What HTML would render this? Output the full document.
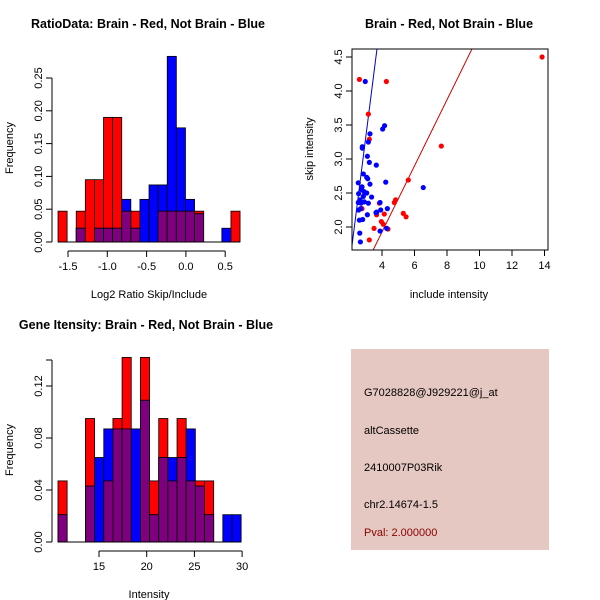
<!DOCTYPE html>
<html><head><meta charset="utf-8"><style>
html,body{margin:0;padding:0;background:#fff}
svg{display:block;font-family:"Liberation Sans",sans-serif}
</style></head><body>
<svg id="s" width="600" height="600" viewBox="0 0 600 600">
<rect width="600" height="600" fill="#fff"/>
<g font-weight="bold" font-size="12.5" text-anchor="middle">
<text x="148" y="28">RatioData: Brain - Red, Not Brain - Blue</text>
<text x="449" y="28">Brain - Red, Not Brain - Blue</text>
<text x="146" y="329">Gene Itensity: Brain - Red, Not Brain - Blue</text>
</g>
<g font-size="11" text-anchor="middle">
<text x="149" y="298">Log2 Ratio Skip/Include</text>
<text transform="translate(13,148) rotate(-90)">Frequency</text>
<text x="449" y="298">include intensity</text>
<text transform="translate(313,149) rotate(-90)">skip intensity</text>
<text x="149" y="598">Intensity</text>
<text transform="translate(13,450) rotate(-90)">Frequency</text>
</g>
<g id="g1"></g>
<g id="g2"></g>
<g id="g3"></g>
<g>
<rect x="351" y="349" width="198" height="201" fill="#e5c8c1"/>
<g font-size="11" fill="#000">
<text x="364" y="396">G7028828@J929221@j_at</text>
<text x="364" y="434">altCassette</text>
<text x="364" y="471">2410007P03Rik</text>
<text x="364" y="508">chr2.14674-1.5</text>
<text x="364" y="536" fill="#8b0000">Pval: 2.000000</text>
</g></g>
</svg>
<script>
// Ratio histogram data
const ratioBinStart = -1.627;
const ratioBinWidth = 0.1158;
const ratioRed =  [0.047,0,0.047,0.095,0.095,0.19,0.19,0.047,0.047,0,0,0.047,0.047,0.047,0.047,0.047,0,0,0,0.047];
const ratioBlue = [0,0,0.021,0,0.021,0.021,0.021,0.065,0.021,0.065,0.087,0.087,0.283,0.174,0.065,0.043,0,0,0.021,0];
const ratioXTicks = [-1.5,-1.0,-0.5,0.0,0.5];
const ratioXLabels = ["-1.5","-1.0","-0.5","0.0","0.5"];
const ratioYTicks = [0,0.05,0.10,0.15,0.20,0.25];
const ratioYLabels = ["0.00","0.05","0.10","0.15","0.20","0.25"];
// Intensity histogram data
const intBinStart = 10.7;
const intBinWidth = 0.96;
const intRed =  [0.047,0,0,0.095,0,0.047,0.095,0.142,0,0.142,0.047,0.095,0.047,0.095,0.047,0.047,0.047,0,0,0];
const intBlue = [0.021,0,0,0.043,0.065,0.087,0.087,0.087,0.087,0.109,0.021,0.065,0.065,0.065,0.087,0.043,0.021,0,0.021,0.021];
const intXTicks = [15,20,25,30];
const intXLabels = ["15","20","25","30"];
const intYTicks = [0,0.04,0.08,0.12,0.14];
const intYLabels = ["0.00","0.04","0.08","0.12",""];
// Scatter data
const blueX = [2.97,2.54,2.79,2.79,3.16,3.26,4.04,4.16,3.10,3.22,3.65,2.85,3.06,3.12,3.26,4.23,6.54,2.56,2.75,2.89,2.65,2.85,3.06,3.36,2.54,2.71,2.91,3.16,2.56,2.69,3.67,3.88,3.92,4.33,3.10,3.63,2.61,2.81,2.63,2.67,3.88,4.29,2.77];
const blueY = [4.14,2.65,3.18,3.16,3.25,3.37,3.44,3.49,3.04,2.95,2.91,2.78,2.73,2.71,2.63,2.66,2.58,2.49,2.55,2.52,2.40,2.45,2.50,2.44,2.36,2.35,2.37,2.35,2.25,2.27,2.22,2.36,2.25,2.27,2.18,2.21,2.10,2.11,1.91,1.78,1.94,1.98,2.59];
const redX = [2.61,4.27,3.16,3.22,13.85,7.65,5.62,2.77,4.76,4.84,5.31,5.48,4.14,3.96,4.08,3.67,3.51,3.22,4.37,3.84];
const redY = [4.17,4.14,3.66,3.29,4.50,3.19,2.69,2.27,2.36,2.40,2.20,2.15,2.19,2.08,2.04,2.18,1.98,1.81,1.97,2.35];
const blueFit = [-2.32, 1.88];
const redFit = [-0.017, 0.486];
const scXTicks = [4,6,8,10,12,14];
const scXLabels = ["4","6","8","10","12","14"];
const scYTicks = [2.0,2.5,3.0,3.5,4.0,4.5];
const scYLabels = ["2.0","2.5","3.0","3.5","4.0","4.5"];

const NS="http://www.w3.org/2000/svg";
function mk(parent,tag,attrs,txt){const e=document.createElementNS(NS,tag);for(const k in attrs)e.setAttribute(k,attrs[k]);if(txt!==undefined)e.textContent=txt;parent.appendChild(e);return e;}

function hist(g,start,w,red,blue,xs,ys,xt,xl,yt,yl,axY,xBase){
  for(let i=0;i<red.length;i++){
    const x0=xs(start+i*w),x1=xs(start+(i+1)*w);
    if(red[i]>0){const r=mk(g,'rect',{x:x0,y:ys(red[i]),width:x1-x0,height:ys(0)-ys(red[i]),fill:'#ff0000',stroke:'#000','stroke-width':0.8});
      
      }
    if(blue[i]>0){const b=mk(g,'rect',{x:x0,y:ys(blue[i]),width:x1-x0,height:ys(0)-ys(blue[i]),fill:'#0000ff',stroke:'#000','stroke-width':0.8});
      
      }
    const m=Math.min(red[i],blue[i]);
    if(m>0){const p=mk(g,'rect',{x:x0,y:ys(m),width:x1-x0,height:ys(0)-ys(m),fill:'#7f007f',stroke:'#000','stroke-width':0.8});
      
      }
  }
  mk(g,'line',{x1:axY,x2:axY,y1:ys(yt[0]),y2:ys(yt[yt.length-1]),stroke:'#000'});
  yt.forEach((v,i)=>{mk(g,'line',{x1:axY-6,x2:axY,y1:ys(v),y2:ys(v),stroke:'#000'});
    const t=mk(g,'text',{transform:`translate(${axY-10},${ys(v)}) rotate(-90)`,'text-anchor':'middle','font-size':11},yl[i]);
    
    });
  mk(g,'line',{x1:xs(xt[0]),x2:xs(xt[xt.length-1]),y1:xBase,y2:xBase,stroke:'#000'});
  xt.forEach((v,i)=>{mk(g,'line',{x1:xs(v),x2:xs(v),y1:xBase,y2:xBase+6,stroke:'#000'});
    const t=mk(g,'text',{x:xs(v),y:xBase+19,'text-anchor':'middle','font-size':11},xl[i]);
    
    });
  mk(g,'line',{x1:xs(start),x2:xs(start+red.length*w),y1:ys(0),y2:ys(0),stroke:'#000'});
}
{const xs=v=>68+(v+1.5)*78.6, ys=v=>242-v*656;
 hist(document.getElementById('g1'),ratioBinStart,ratioBinWidth,ratioRed,ratioBlue,xs,ys,ratioXTicks,ratioXLabels,ratioYTicks,ratioYLabels,52,251);}
{const xs=v=>99+(v-15)*9.54, ys=v=>542-v*1300;
 hist(document.getElementById('g3'),intBinStart,intBinWidth,intRed,intBlue,xs,ys,intXTicks,intXLabels,intYTicks,intYLabels,52,551);}
{const g=document.getElementById('g2');
 const xs=v=>382+(v-4)*16.25, ys=v=>227-(v-2)*68;
 const L=352,R=548,T=49,B=250;
 const cp=mk(g,'clipPath',{id:'cp'});mk(cp,'rect',{x:L,y:T,width:R-L,height:B-T});
 const lines=mk(g,'g',{'clip-path':'url(#cp)'});
 const xmin=1.5,xmax=16;
 const bl=mk(lines,'line',{x1:xs(xmin),y1:ys(blueFit[0]+blueFit[1]*xmin),x2:xs(xmax),y2:ys(blueFit[0]+blueFit[1]*xmax),stroke:'#0000cc'});
 
 
 const rl=mk(lines,'line',{x1:xs(xmin),y1:ys(redFit[0]+redFit[1]*xmin),x2:xs(xmax),y2:ys(redFit[0]+redFit[1]*xmax),stroke:'#cc0000'});
 
 
 redX.forEach((x,i)=>{const c=mk(g,'circle',{cx:xs(x),cy:ys(redY[i]),r:2.6,fill:'#ff0000'});
   
   });
 blueX.forEach((x,i)=>{const c=mk(g,'circle',{cx:xs(x),cy:ys(blueY[i]),r:2.6,fill:'#0000ff'});
   
   });
 mk(g,'rect',{x:L,y:T,width:R-L,height:B-T,fill:'none',stroke:'#000'});
 scXTicks.forEach((v,i)=>{mk(g,'line',{x1:xs(v),x2:xs(v),y1:B,y2:B+6,stroke:'#000'});
   const t=mk(g,'text',{x:xs(v),y:B+19,'text-anchor':'middle','font-size':11},scXLabels[i]);
   
   });
 scYTicks.forEach((v,i)=>{mk(g,'line',{x1:L-6,x2:L,y1:ys(v),y2:ys(v),stroke:'#000'});
   const t=mk(g,'text',{transform:`translate(${L-10},${ys(v)}) rotate(-90)`,'text-anchor':'middle','font-size':11},scYLabels[i]);
   
   });
}
</script>
</body></html>
